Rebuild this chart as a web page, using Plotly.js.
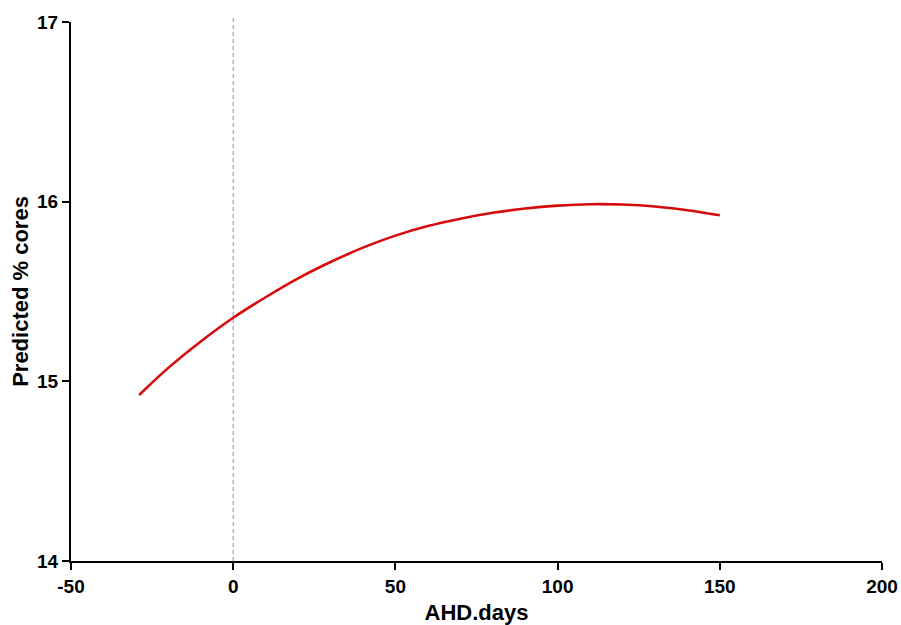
<!DOCTYPE html>
<html>
<head>
<meta charset="utf-8">
<script src="https://cdn.plot.ly/plotly-3.0.1.min.js"></script>
<style>html,body{margin:0;padding:0;background:#fff;}#chart{width:901px;height:625px;}</style>
</head>
<body>
<div id="chart"></div>
<script>
var ahdDays = [-29, -20, -10, 0, 10, 20, 30, 40, 50, 60, 70, 80, 90, 100, 110, 120, 130, 140, 150];
var predictedCores = [14.924, 15.075, 15.222, 15.354, 15.468, 15.573, 15.664, 15.744, 15.811, 15.864, 15.905, 15.938, 15.962, 15.978, 15.986, 15.984, 15.973, 15.952, 15.924];
var xTicks = [-50, 0, 50, 100, 150, 200];
var yTicks = [14, 15, 16, 17];
var referenceDay = 0;

var fontFam = '"Liberation Sans", Arial, sans-serif';

var trace = {
  x: ahdDays,
  y: predictedCores,
  type: 'scatter',
  mode: 'lines',
  line: {color: '#d60a0a', width: 2.6, shape: 'spline'},
  hoverinfo: 'skip'
};

var axisCommon = {
  showline: true, linewidth: 2, linecolor: '#000',
  ticks: 'outside', ticklen: 7, tickwidth: 2, tickcolor: '#000',
  showgrid: false, zeroline: false,
  tickfont: {family: fontFam, size: 19, color: '#000', weight: 'bold'}
};

var layout = {
  width: 901, height: 625,
  margin: {l: 71, r: 19, t: 22, b: 64},
  paper_bgcolor: '#fff', plot_bgcolor: '#fff',
  showlegend: false,
  xaxis: Object.assign({}, axisCommon, {
    range: [-50, 200], tickvals: xTicks, ticktext: xTicks.map(String),
    title: {text: 'AHD.days', standoff: 10, font: {family: fontFam, size: 22, color: '#000', weight: 'bold'}}
  }),
  yaxis: Object.assign({}, axisCommon, {
    range: [14, 17], tickvals: yTicks, ticktext: yTicks.map(String),
    title: {text: 'Predicted % cores', standoff: 2, font: {family: fontFam, size: 22, color: '#000', weight: 'bold'}}
  }),
  shapes: [{
    type: 'line', xref: 'x', yref: 'paper',
    x0: referenceDay, x1: referenceDay, y0: 0, y1: 1.013,
    line: {color: '#8484dc', width: 1, dash: '4px,3px'},
    layer: 'below'
  }]
};

Plotly.newPlot('chart', [trace], layout, {displayModeBar: false, staticPlot: true});
</script>
</body>
</html>
